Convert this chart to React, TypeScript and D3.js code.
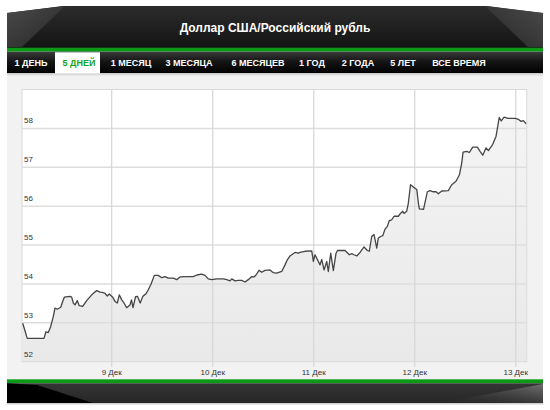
import React from "react";
import * as d3 from "d3";

const title = "Доллар США/Российский рубль";
const tabs = ["1 ДЕНЬ", "5 ДНЕЙ", "1 МЕСЯЦ", "3 МЕСЯЦА", "6 МЕСЯЦЕВ", "1 ГОД", "2 ГОДА", "5 ЛЕТ", "ВСЕ ВРЕМЯ"];
const activeTab = "5 ДНЕЙ";
const yTicks = [52, 53, 54, 55, 56, 57, 58];
const xTickHours = [24, 48, 72, 96, 120];
const xTickLabels = ["9 Дек", "10 Дек", "11 Дек", "12 Дек", "13 Дек"];

// hours since 8 Dec 00:00
const hours = [
  2.85, 3.33, 3.94, 7.91, 8.39, 8.93, 9.5, 10.12, 10.53, 11.07, 11.88, 12.36, 12.74, 14.09, 14.49, 14.88,
  15.28, 15.83, 16.3, 17.11, 18.06, 19.25, 20.44, 21.22, 21.77, 22.41, 22.95, 23.43, 24.24, 24.78, 25.33,
  25.81, 26.38, 26.92, 27.56, 28.35, 28.7, 29.06, 29.66, 30.13, 30.77, 31.39, 32.08, 32.7, 33.34, 34.12,
  35.07, 35.88, 36.67, 37.45, 38.64, 39.45, 40.23, 41.82, 43.39, 44.2, 45.39, 46.17, 46.95, 47.76, 48.95,
  50.52, 51.33, 52.11, 52.52, 53.3, 54.08, 54.89, 55.68, 56.46, 57.27, 57.81, 58.29, 59.0, 59.64, 60.43,
  61.62, 62.4, 63.21, 64.4, 65.18, 65.73, 66.37, 67.56, 68.34, 68.75, 69.93, 71.53, 71.91, 72.31, 72.9,
  73.5, 73.9, 74.45, 75.09, 75.47, 76.04, 76.66, 77.3, 77.66, 79.44, 80.46, 81.03, 81.58, 82.22, 83.0,
  83.95, 84.74, 85.21, 85.78, 86.33, 86.97, 87.35, 87.92, 88.4, 88.94, 89.49, 89.96, 90.54, 91.08, 92.1,
  92.67, 93.15, 93.46, 94.1, 94.48, 95.0, 95.67, 96.48, 96.86, 97.09, 98.09, 98.99, 99.64, 100.42, 101.06,
  101.61, 102.42, 103.98, 104.79, 105.81, 106.6, 107.17, 107.48, 108.36, 108.98, 109.78, 110.88, 111.52,
  112.16, 112.94, 113.49, 114.54, 115.32, 116.08, 116.56, 117.22, 118.17, 119.83, 120.67, 121.26, 121.81,
  122.45,
];
const rates = [
  52.99, 52.82, 52.6, 52.6, 52.77, 52.75, 52.9, 53.16, 53.38, 53.35, 53.4, 53.55, 53.66, 53.68, 53.66, 53.51,
  53.46, 53.57, 53.44, 53.42, 53.57, 53.72, 53.83, 53.79, 53.78, 53.76, 53.69, 53.74, 53.66, 53.55, 53.51,
  53.72, 53.59, 53.51, 53.39, 53.46, 53.59, 53.39, 53.67, 53.68, 53.51, 53.68, 53.74, 53.85, 53.99, 54.22,
  54.22, 54.16, 54.19, 54.15, 54.15, 54.11, 54.18, 54.19, 54.19, 54.23, 54.25, 54.22, 54.13, 54.11, 54.13,
  54.13, 54.11, 54.08, 54.13, 54.08, 54.09, 54.09, 54.05, 54.11, 54.19, 54.18, 54.23, 54.35, 54.3, 54.35,
  54.36, 54.29, 54.28, 54.32, 54.49, 54.62, 54.72, 54.81, 54.79, 54.81, 54.84, 54.85, 54.58, 54.75, 54.62,
  54.49, 54.63, 54.36, 54.58, 54.32, 54.79, 54.34, 54.79, 54.86, 54.86, 54.75, 54.78, 54.75, 54.72, 54.81,
  54.95, 54.86, 54.84, 55.22, 55.27, 54.92, 55.18, 55.22, 55.24, 55.41, 55.48, 55.63, 55.65, 55.74, 55.74,
  55.82, 55.87, 55.81, 55.87, 56.08, 56.55, 56.49, 56.43, 56.08, 55.93, 55.92, 56.37, 56.4, 56.37, 56.37,
  56.32, 56.39, 56.4, 56.55, 56.64, 56.8, 57.11, 57.39, 57.41, 57.38, 57.52, 57.52, 57.41,
  57.31, 57.5, 57.43, 57.59, 57.8, 58.28, 58.19, 58.29, 58.26, 58.26, 58.23, 58.18, 58.2,
  58.12,
];

const tabCenters = [31, 79, 131, 189, 258, 312, 358, 403, 459];

export default function App() {
  const W = 550, H = 410;
  const pl = 22, pr = 526.7, pt = 89.5, pb = 361.7;
  const x = d3.scaleLinear().domain([2.69, 122.6]).range([pl, pr]);
  const y = d3.scaleLinear().domain([52, 59]).range([pb, pt]);
  const data = hours.map((h, i) => ({ h, v: rates[i] }));
  const line = d3.line<{ h: number; v: number }>().x((d) => x(d.h)).y((d) => y(d.v));
  const area = d3
    .area<{ h: number; v: number }>()
    .x((d) => x(d.h))
    .y0(pb)
    .y1((d) => y(d.v));
  const font = "'Liberation Sans', Arial, sans-serif";

  return (
    <svg width={W} height={H} style={{ position: "absolute", left: 0, top: 0 }} fontFamily={font}>
      <defs>
        <linearGradient id="hdr" x1="0" y1="0" x2="0" y2="1">
          <stop offset="0" stopColor="#2c2c2c" />
          <stop offset="1" stopColor="#141414" />
        </linearGradient>
        <linearGradient id="refl" x1="0" y1="0" x2="1" y2="1">
          <stop offset="0" stopColor="#4a4a4a" />
          <stop offset="1" stopColor="#262626" />
        </linearGradient>
        <linearGradient id="reflR" x1="1" y1="0" x2="0" y2="1">
          <stop offset="0" stopColor="#4a4a4a" />
          <stop offset="1" stopColor="#262626" />
        </linearGradient>
        <linearGradient id="tabbar" x1="0" y1="0" x2="0" y2="1">
          <stop offset="0" stopColor="#3a3a3a" />
          <stop offset="0.45" stopColor="#151515" />
          <stop offset="1" stopColor="#000" />
        </linearGradient>
        <linearGradient id="areaFill" x1="0" y1="0" x2="0" y2="1">
          <stop offset="0" stopColor="#f4f4f4" />
          <stop offset="1" stopColor="#e9e9e9" />
        </linearGradient>
        <linearGradient id="foot" x1="0" y1="0" x2="0" y2="1">
          <stop offset="0" stopColor="#353535" />
          <stop offset="1" stopColor="#262626" />
        </linearGradient>
        <linearGradient id="footR" x1="0" y1="1" x2="1" y2="0">
          <stop offset="0" stopColor="#2e2e2e" stopOpacity="0" />
          <stop offset="1" stopColor="#707070" />
        </linearGradient>
      </defs>

      {/* header */}
      <path d="M7,13 L63,6 L487,6 L543,13 L543,48 L7,48 Z" fill="url(#hdr)" />
      <path d="M7,13 L65,6 L22,47 L7,47 Z" fill="url(#refl)" />
      <path d="M543,13 L485,6 L528,47 L543,47 Z" fill="url(#reflR)" />
      <text x={275} y={31.5} textAnchor="middle" fill="#fff" fontSize={12} fontWeight="bold">
        {title}
      </text>
      <rect x={7} y={47.7} width={536} height={4} fill="#0c9a16" />

      {/* tabs */}
      <rect x={7} y={51.7} width={536} height={21.8} fill="url(#tabbar)" />
      {tabs.map((t, i) => {
        const active = t === activeTab;
        return (
          <g key={t}>
            {active && <rect x={55} y={52.3} width={45} height={21.5} fill="#fff" />}
            <text
              x={tabCenters[i]}
              y={66}
              textAnchor="middle"
              fontSize={9}
              fontWeight="bold"
              fill={active ? "#1aa31a" : "#fff"}
            >
              {t}
            </text>
          </g>
        );
      })}

      {/* panel */}
      <rect x={7} y={73.5} width={536} height={305.5} fill="#f2f2f2" />
      <rect x={7} y={73.5} width={536} height={2} fill="#dcdcdc" />

      {/* plot */}
      <rect x={pl} y={pt} width={pr - pl} height={pb - pt} fill="#fff" />
      <path d={area(data) || ""} fill="url(#areaFill)" />
      {yTicks.slice(1).map((t) => (
        <line key={t} x1={pl} x2={pr} y1={y(t)} y2={y(t)} stroke="#dedede" strokeWidth={1.5} />
      ))}
      {xTickHours.map((h) => (
        <line key={h} x1={x(h)} x2={x(h)} y1={pt} y2={pb + 5} stroke="#d6d6d6" strokeWidth={1.2} />
      ))}
      <rect x={pl} y={pt} width={pr - pl} height={pb - pt} fill="none" stroke="#dadada" strokeWidth={1} />
      <path d={line(data) || ""} fill="none" stroke="#454545" strokeWidth={1.3} strokeLinejoin="round" />
      {yTicks.map((t) => (
        <text key={t} x={24} y={y(t) - 5} fontSize={8} fill="#333">
          {t}
        </text>
      ))}
      {xTickHours.map((h, i) => (
        <text key={h} x={x(h)} y={374.5} fontSize={8} fill="#333" textAnchor="middle">
          {xTickLabels[i]}
        </text>
      ))}

      {/* footer */}
      <rect x={7} y={379.3} width={536} height={4} fill="#0c9a16" />
      <path d="M7,383.3 L543,383.3 L543,403 L7,403 Z" fill="url(#foot)" />
      <path d="M7,383.3 L37,385 L93,403 L7,403 Z" fill="#000" />
      <path d="M543,384 L543,403 L440,403 Z" fill="url(#footR)" />
      <rect x={7} y={403} width={536} height={1.5} fill="#cfcfcf" />
    </svg>
  );
}
